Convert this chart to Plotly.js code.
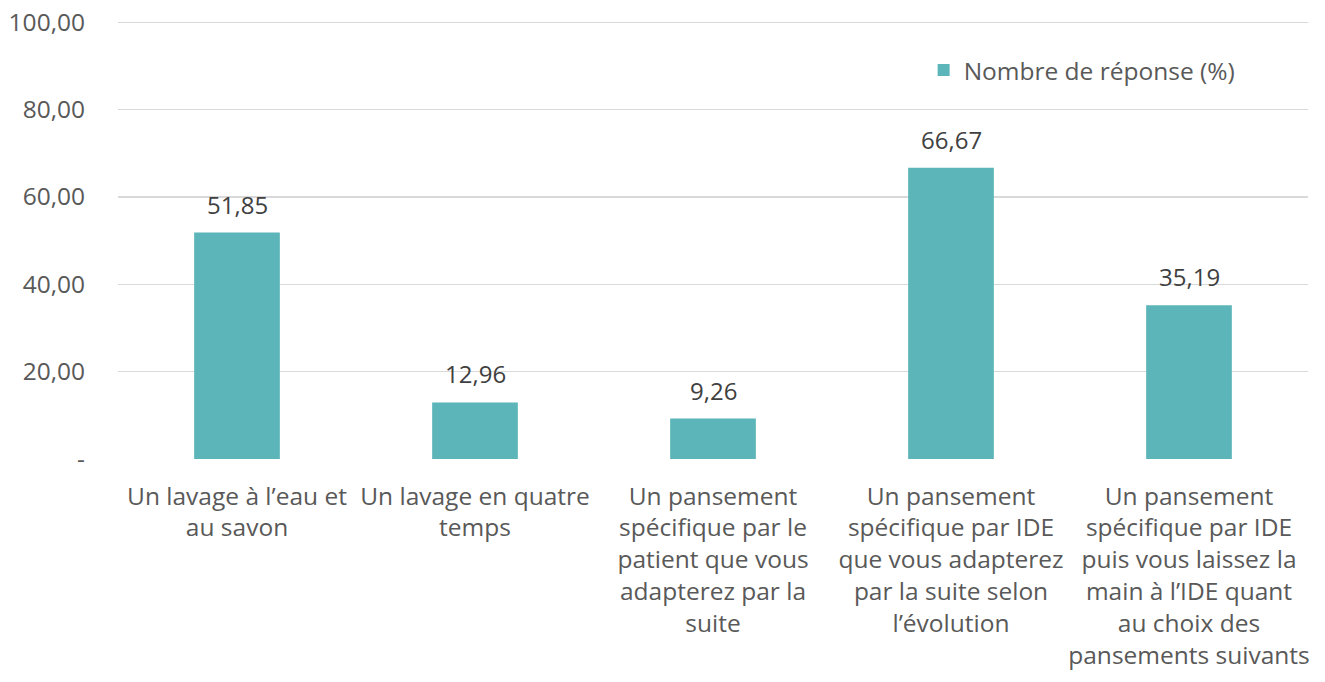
<!DOCTYPE html>
<html><head><meta charset="utf-8">
<script src="https://cdn.plot.ly/plotly-3.0.1.min.js"></script>
<style>html,body{margin:0;padding:0;background:#fff}#chart{width:1325px;height:682px}</style>
</head><body><div id="chart"></div>
<script>
const categories = [
  "Un lavage à l’eau et<br>au savon",
  "Un lavage en quatre<br>temps",
  "Un pansement<br>spécifique par le<br>patient que vous<br>adapterez par la<br>suite",
  "Un pansement<br>spécifique par IDE<br>que vous adapterez<br>par la suite selon<br>l’évolution",
  "Un pansement<br>spécifique par IDE<br>puis vous laissez la<br>main à l’IDE quant<br>au choix des<br>pansements suivants"
];
const values = [51.85, 12.96, 9.26, 66.67, 35.19];
const valueLabels = ["51,85", "12,96", "9,26", "66,67", "35,19"];
const seriesName = "Nombre de réponse (%)";
const yTickVals = [0, 20, 40, 60, 80, 100];
const yTickText = ["-", "20,00", "40,00", "60,00", "80,00", "100,00"];

const FONT = "Open Sans, sans-serif";
const textColor = "#595959";

const trace = {
  type: "bar",
  x: categories,
  y: values,
  name: seriesName,
  marker: {color: "#5BB5B9"},
  hoverinfo: "none"
};

const annotations = categories.map((c, i) => ({
  x: c, y: values[i], xref: "x", yref: "y",
  text: valueLabels[i], showarrow: false,
  yanchor: "bottom", yshift: 10,
  font: {family: FONT, size: 24, color: "#404040"}
}));

const layout = {
  width: 1325, height: 682,
  margin: {l: 118, r: 17, t: 20, b: 223},
  paper_bgcolor: "#fff", plot_bgcolor: "#fff",
  font: {family: FONT, size: 24.5, color: textColor},
  bargap: 0.64,
  showlegend: true,
  legend: {x: 0.677, y: 0.886, xanchor: "left", yanchor: "middle",
           font: {family: FONT, size: 24.5, color: textColor}, bgcolor: "rgba(0,0,0,0)"},
  xaxis: {
    tickfont: {family: FONT, size: 24.5, color: textColor},
    ticks: "", showline: false, showgrid: false,
    ticklabelstandoff: 20, automargin: false, tickangle: 0
  },
  yaxis: {
    range: [0, 100.5], tickvals: yTickVals, ticktext: yTickText,
    gridcolor: "#D9D9D9", gridwidth: 1.3, zeroline: false, showline: false,
    tickfont: {family: FONT, size: 24.5, color: textColor},
    ticklabelstandoff: 32, automargin: false, fixedrange: true
  },
  annotations: annotations
};

Plotly.newPlot("chart", [trace], layout, {displayModeBar: false, staticPlot: true});
</script></body></html>
